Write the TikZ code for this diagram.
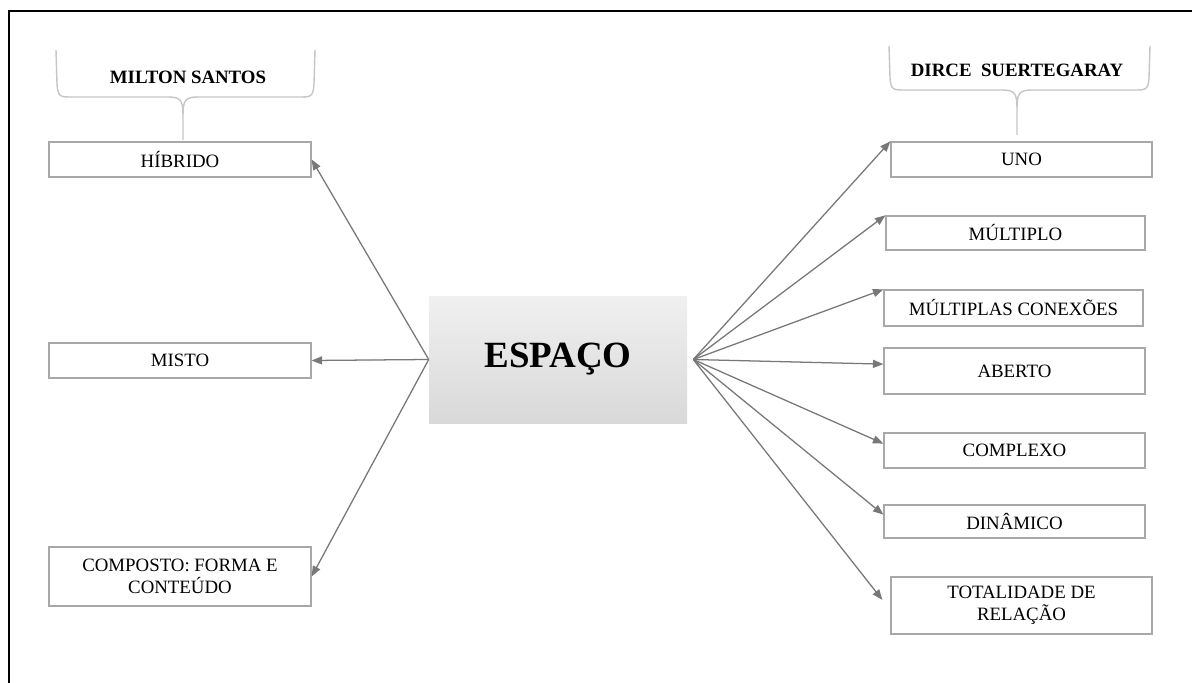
\documentclass[tikz,border=0pt]{standalone}
\usepackage{fontspec}
\setmainfont{Liberation Serif}
\usetikzlibrary{arrows.meta}
\definecolor{boxgray}{HTML}{A8A8A8}
\definecolor{arrgray}{HTML}{787878}
\definecolor{bracegray}{HTML}{C6C6C6}
\tikzset{
  px/.style 2 args={minimum width=#1*0.025cm,minimum height=#2*0.025cm},
  box/.style={draw=boxgray,line width=0.9pt,inner sep=0pt,align=center,
    font=\fontsize{13.4}{16}\selectfont},
  head/.style={inner sep=0pt,font=\fontsize{13.4}{16}\selectfont\bfseries},
  arr/.style={-{Triangle[length=2.6mm,width=2mm]},draw=arrgray,fill=arrgray,line width=0.9pt},
  brace/.style={draw=bracegray,line width=1pt}}

\begin{document}
\begin{tikzpicture}[x=0.025cm,y=-0.025cm]

\useasboundingbox (0,0) rectangle (1192,683);
\fill[white] (0,0) rectangle (1192,683);
\draw[line width=1.2pt] (9,683) -- (9,11) -- (1192,11);

\node[px={258}{127},inner sep=0pt,top color=black!6,bottom color=black!15,
  font=\fontsize{26.3}{30}\selectfont\bfseries] (esp) at (558,359.5) {ESPAÇO};

\node[box,px={262}{35}] (hib) at (180,159.5) {HÍBRIDO};
\node[box,px={262}{35}] (misto) at (180,360.5) {MISTO};
\node[box,px={262}{59}] (comp) at (180,576.5) {COMPOSTO: FORMA E\\CONTEÚDO};

\node[box,px={261}{35}] (uno) at (1021.5,159.5) {UNO};
\node[box,px={259}{34}] (mult) at (1015.5,233) {MÚLTIPLO};
\node[box,px={259}{36}] (conex) at (1013.5,308) {MÚLTIPLAS CONEXÕES};
\node[box,px={261}{46}] (aberto) at (1014.5,371) {ABERTO};
\node[box,px={261}{35}] (complexo) at (1014.5,450.5) {COMPLEXO};
\node[box,px={261}{33}] (dinamico) at (1014.5,521.5) {DINÂMICO};
\node[box,px={261}{57}] (total) at (1021.5,605.5) {TOTALIDADE DE\\RELAÇÃO};

\node[head] (milton) at (188,77) {MILTON SANTOS};
\node[head] (dirce) at (1017,70) {DIRCE\ \ SUERTEGARAY};

\draw[brace] (56,50) -- (57,84) .. controls (58,97) and (60,97) .. (72,97) -- (168,97)
  .. controls (180,97) and (183,100) .. (183,114) -- (183,140);
\draw[brace] (315,50) -- (314,84) .. controls (313,97) and (311,97) .. (299,97) -- (198,97)
  .. controls (186,97) and (183,100) .. (183,114);
\draw[brace] (889,46) -- (890,78) .. controls (891,90) and (893,90) .. (905,90) -- (1002,90)
  .. controls (1014,90) and (1017,93) .. (1017,107) -- (1017,135);
\draw[brace] (1150,46) -- (1149,78) .. controls (1148,90) and (1146,90) .. (1134,90) -- (1032,90)
  .. controls (1020,90) and (1017,93) .. (1017,107);

\coordinate (hubR) at ([xshift=0.15cm]esp.east);

\draw[arr] (esp.west) -- (hib.east);
\draw[arr] (esp.west) -- (misto.east);
\draw[arr] (esp.west) -- (comp.east);

\draw[arr] (hubR) -- (uno.north west);
\draw[arr] (hubR) -- (mult.north west);
\draw[arr] (hubR) -- (conex.north west);
\draw[arr] (hubR) -- (aberto.177);
\draw[arr] (hubR) -- (complexo.177);
\draw[arr] (hubR) -- (dinamico.177);
\draw[arr] (hubR) -- ([xshift=-0.2cm,yshift=0.14cm]total.west);

\end{tikzpicture}
\end{document}
